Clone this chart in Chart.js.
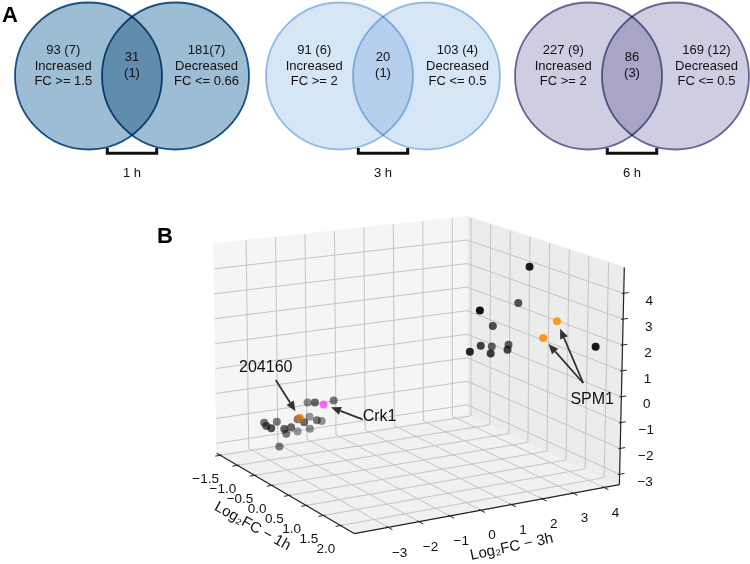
<!DOCTYPE html>
<html>
<head>
<meta charset="utf-8">
<script src="https://cdn.jsdelivr.net/npm/chart.js@4.4.1/dist/chart.umd.min.js"></script>
<style>
html,body{margin:0;padding:0;background:#fff;overflow:hidden;width:750px;height:564px;}
#wrap{position:relative;width:750px;height:564px;overflow:hidden;}
canvas{position:absolute;}
.panel{position:absolute;font-family:'Liberation Sans',Arial,sans-serif;font-weight:bold;font-size:22px;line-height:22px;color:#000;}
</style>
</head>
<body>
<div id="wrap">
  <canvas id="venn0" width="250" height="190" style="left:7px;top:0px"></canvas>
  <canvas id="venn1" width="250" height="190" style="left:258px;top:0px"></canvas>
  <canvas id="venn2" width="250" height="190" style="left:507px;top:0px"></canvas>
  <canvas id="scatter3d" width="750" height="374" style="left:0px;top:190px"></canvas>
  <div class="panel" style="left:2px;top:4px">A</div>
  <div class="panel" style="left:157px;top:225px">B</div>
</div>
<script>
// ================= DATA =================
// Panel A: Venn diagrams
const timePoints      = ['1 h', '3 h', '6 h'];
const increasedLabels = ['93 (7)', '91 (6)', '227 (9)'];
const increasedRule   = ['FC >= 1.5', 'FC >= 2', 'FC >= 2'];
const overlapCounts   = ['31', '20', '86'];
const overlapSub      = ['(1)', '(1)', '(3)'];
const decreasedLabels = ['181(7)', '103 (4)', '169 (12)'];
const decreasedRule   = ['FC <= 0.66', 'FC <= 0.5', 'FC <= 0.5'];

// Panel B: 3D scatter (log2 fold changes)
const geneLog2FC1h = [-1.0, -0.8, -0.6, -1.0, -0.6, -0.8, -0.6, -1.0, -0.8, -0.6, -1.0, -0.8, -0.6, -0.8, -1.0, -0.6, -0.6, -0.8,
                       1.0,  0.6,  1.0,  0.6,  1.0,  0.8,  0.6,  1.0,  0.8,  1.0,  2.2];
const geneLog2FC3h = [-3.17, -3.33, -3.40, -2.74, -2.96, -2.66, -2.73, -2.04, -2.27, -2.29, -1.63, -1.86, -1.86, -1.46, -1.69, -1.92, -1.29, -2.90,
                       3.22,  3.37,  1.62,  2.54,  1.30,  1.90,  2.51,  1.98,  2.81,  2.53,  3.89];
const geneLog2FC6h = [-1.88, -1.83, -1.76, -1.92, -1.87, -2.26, -1.84, -2.43, -1.75, -1.72, -1.92, -2.21, -1.72, -1.97, -1.33, -1.01, -1.04, -2.72,
                       4.51,  2.83,  3.04,  2.04,  1.48,  1.49,  1.24,  1.29,  1.38,  1.35,  1.93];

const highlightNames = ['SPM1', 'SPM1', '204160', 'Crk1'];
const highlight1h    = [1.4, 1.4, -0.8, -0.8];
const highlight3h    = [3.19, 3.63, -2.20, -1.39];
const highlight6h    = [1.93, 2.51, -1.72, -1.32];

const ticks1h = [-1.5, -1.0, -0.5, 0.0, 0.5, 1.0, 1.5, 2.0];
const ticks3h = [-3, -2, -1, 0, 1, 2, 3, 4];
const ticks6h = [-3, -2, -1, 0, 1, 2, 3, 4];
const lim1h = [-1.6, 2.4];
const lim3h = [-4.1, 4.5];
const lim6h = [-3.4, 5.0];
const label1h = 'Log\u2082FC \u2212 1h';
const label3h = 'Log\u2082FC \u2212 3h';

// ================= STYLE / LAYOUT =================
const FONT = "'Liberation Sans', Arial, Helvetica, sans-serif";
Chart.defaults.font.family = FONT;

const vennFill   = ['#9cbdd3', '#d7e6f6', '#cfcde1'];
const vennStroke = ['#1d5a8e', '#9ec4e7', '#706e9d'];
const VENN_SEP = 0.5, VENN_R = 0.845;

const multiplyPlugin = {
  id: 'multiplyFill',
  beforeDatasetsDraw(chart) { chart.ctx.save(); chart.ctx.globalCompositeOperation = 'multiply'; },
  afterDatasetsDraw(chart) { chart.ctx.restore(); }
};

const vennTextPlugin = {
  id: 'vennText',
  afterDraw(chart, args, opts) {
    const i = opts.index;
    const ctx = chart.ctx, sx = chart.scales.x, sy = chart.scales.y;
    ctx.save();
    ctx.fillStyle = '#111';
    ctx.font = '13px ' + FONT;
    ctx.textAlign = 'center';
    ctx.textBaseline = 'middle';
    const put = (t, x, y) => ctx.fillText(t, sx.getPixelForValue(x), sy.getPixelForValue(y));
    const lx = -VENN_SEP - 0.29, rx = VENN_SEP + 0.356;
    put(increasedLabels[i], lx, 0.299);
    put('Increased', lx, 0.115);
    put(increasedRule[i], lx, -0.057);
    put(decreasedLabels[i], rx, 0.299);
    put('Decreased', rx, 0.115);
    put(decreasedRule[i], rx, -0.057);
    put(overlapCounts[i], 0, 0.218);
    put(overlapSub[i], 0, 0.034);
    put(timePoints[i], 0, -1.118);
    ctx.restore();
  }
};

function makeVenn(i) {
  new Chart(document.getElementById('venn' + i), {
    type: 'scatter',
    data: {
      datasets: [
        {
          data: [{x: -VENN_SEP, y: 0}, {x: VENN_SEP, y: 0}],
          pointRadius: ctx => { const s = ctx.chart.scales.x; return s.getPixelForValue(VENN_R) - s.getPixelForValue(0); },
          pointBackgroundColor: vennFill[i],
          pointBorderColor: vennStroke[i],
          pointBorderWidth: 1.8,
          order: 2
        },
        {
          data: [{x: -0.284, y: -0.828}, {x: -0.284, y: -0.888}, {x: 0.284, y: -0.888}, {x: 0.284, y: -0.828}],
          showLine: true, pointRadius: 0, borderColor: '#111', borderWidth: 3, borderJoinStyle: 'miter', order: 1
        }
      ]
    },
    options: {
      responsive: false, animation: false, events: [],
      layout: {padding: 0},
      plugins: {legend: {display: false}, tooltip: {enabled: false}, vennText: {index: i}},
      scales: {
        x: {type: 'linear', min: -1.437, max: 1.437, display: false},
        y: {type: 'linear', min: -1.3103, max: 0.8736, display: false}
      }
    },
    plugins: [multiplyPlugin, vennTextPlugin]
  });
}
[0, 1, 2].forEach(makeVenn);

// ---------- 3D projection (box corners on the page, in px) ----------
const BOX = {
  '000': [215, 455], '100': [354, 537], '110': [622, 487], '010': [468, 415],
  '001': [212, 241], '101': [351, 300], '111': [627, 265], '011': [468, 213]
};
const lerp = (a, b, t) => [a[0] + (b[0] - a[0]) * t, a[1] + (b[1] - a[1]) * t];
function norm3(x, y, z) {
  return [(x - lim1h[0]) / (lim1h[1] - lim1h[0]), (y - lim3h[0]) / (lim3h[1] - lim3h[0]), (z - lim6h[0]) / (lim6h[1] - lim6h[0])];
}
function proj(x, y, z) {
  const [u, v, w] = norm3(x, y, z);
  const b0 = lerp(BOX['000'], BOX['100'], u), b1 = lerp(BOX['010'], BOX['110'], u);
  const t0 = lerp(BOX['001'], BOX['101'], u), t1 = lerp(BOX['011'], BOX['111'], u);
  const b = lerp(b0, b1, v), t = lerp(t0, t1, v);
  const p = lerp(b, t, w);
  return {x: p[0], y: p[1]};
}
function nearness(x, y, z) { const [u, v, w] = norm3(x, y, z); return 0.5 * u - 0.45 * v + 0.35 * w; }
function depthAlphas(xs, ys, zs, lo, hi) {
  const s = xs.map((x, k) => nearness(x, ys[k], zs[k]));
  const mn = Math.min(...s), mx = Math.max(...s);
  return s.map(v => lo + (hi - lo) * (mx > mn ? (v - mn) / (mx - mn) : 1));
}

const [X0, X1] = lim1h, [Y0, Y1] = lim3h, [Z0, Z1] = lim6h;
const datasets = [];
function lineDS(pts, color, width, order, fillColor) {
  datasets.push({
    data: pts, showLine: true, pointRadius: 0, borderColor: color, borderWidth: width,
    fill: fillColor ? 'shape' : false, backgroundColor: fillColor || 'transparent',
    tension: 0, order: order, clip: false
  });
}
// panes
lineDS([proj(X0,Y0,Z0), proj(X0,Y1,Z0), proj(X0,Y1,Z1), proj(X0,Y0,Z1), proj(X0,Y0,Z0)], '#f5f5f5', 1, 20, '#f5f5f5');
lineDS([proj(X0,Y1,Z0), proj(X1,Y1,Z0), proj(X1,Y1,Z1), proj(X0,Y1,Z1), proj(X0,Y1,Z0)], '#ececec', 1, 20, '#ececec');
lineDS([proj(X0,Y0,Z0), proj(X1,Y0,Z0), proj(X1,Y1,Z0), proj(X0,Y1,Z0), proj(X0,Y0,Z0)], '#f1f1f1', 1, 20, '#f1f1f1');
// grid
const GRID = '#c4c4c4';
ticks1h.forEach(t => lineDS([proj(t,Y0,Z0), proj(t,Y1,Z0), proj(t,Y1,Z1)], GRID, 1, 15));
ticks3h.forEach(t => lineDS([proj(X1,t,Z0), proj(X0,t,Z0), proj(X0,t,Z1)], GRID, 1, 15));
ticks6h.forEach(t => lineDS([proj(X0,Y0,t), proj(X0,Y1,t), proj(X1,Y1,t)], GRID, 1, 15));
// axis lines
const AX = '#222';
lineDS([proj(X0,Y0,Z0), proj(X1,Y0,Z0)], AX, 1.2, 12);
lineDS([proj(X1,Y0,Z0), proj(X1,Y1,Z0)], AX, 1.2, 12);
lineDS([proj(X1,Y1,Z0), proj(X1,Y1,Z1)], AX, 1.2, 12);
// tick marks
function tickDS(p, q) {
  const dx = q.x - p.x, dy = q.y - p.y, L = Math.hypot(dx, dy);
  const ux = dx / L, uy = dy / L;
  lineDS([{x: p.x - 2 * ux, y: p.y - 2 * uy}, {x: p.x + 5 * ux, y: p.y + 5 * uy}], AX, 1, 12);
}
ticks1h.forEach(t => tickDS(proj(t,Y0,Z0), proj(t,Y0 - 1,Z0)));
ticks3h.forEach(t => tickDS(proj(X1,t,Z0), proj(X1 + 1,t,Z0)));
ticks6h.forEach(t => tickDS(proj(X1,Y1,t), proj(X1,Y1 + 1,t)));

// gene points
const geneAlpha = depthAlphas(geneLog2FC1h, geneLog2FC3h, geneLog2FC6h, 0.42, 1.0);
datasets.push({
  data: geneLog2FC1h.map((x, k) => proj(x, geneLog2FC3h[k], geneLog2FC6h[k])),
  showLine: false, pointRadius: 4, pointBorderWidth: 0,
  pointBackgroundColor: geneAlpha.map(a => `rgba(17,17,17,${a.toFixed(2)})`),
  order: 5, clip: false
});
const hiColor = {SPM1: [255, 150, 25], '204160': [210, 115, 15], Crk1: [255, 60, 255]};
const hiAlpha = depthAlphas(highlight1h, highlight3h, highlight6h, 0.8, 0.95);
datasets.push({
  data: highlight1h.map((x, k) => proj(x, highlight3h[k], highlight6h[k])),
  showLine: false, pointRadius: 4, pointBorderWidth: 0,
  pointBackgroundColor: highlightNames.map((n, k) => `rgba(${hiColor[n].join(',')},${n === 'Crk1' ? 0.75 : hiAlpha[k].toFixed(2)})`),
  order: 4, clip: false
});

// annotation layout (pixel offsets)
const annot = {
  'SPM1':   {text: [49, 62],   tail: [-9, -17]},
  '204160': {text: [-34, -50], tail: [10, 12]},
  'Crk1':   {text: [56, 12],   tail: [-17, 3]}
};
const minus = s => s.replace('-', '\u2212');

const labels3d = {
  id: 'labels3d',
  afterDatasetsDraw(chart) {
    const ctx = chart.ctx, sx = chart.scales.x, sy = chart.scales.y;
    const px = p => ({x: sx.getPixelForValue(p.x), y: sy.getPixelForValue(p.y)});
    ctx.save();
    ctx.fillStyle = '#111';
    ctx.textAlign = 'center';
    ctx.textBaseline = 'middle';
    ctx.font = '13.5px ' + FONT;
    ticks1h.forEach(t => { const p = px(proj(t, Y0, Z0)); ctx.fillText(minus(t.toFixed(1)), p.x - 14.5, p.y + 23.5); });
    ticks3h.forEach(t => { const p = px(proj(X1, t, Z0)); ctx.fillText(minus(String(t)), p.x + 11.5, p.y + 25.5); });
    ticks6h.forEach(t => { const p = px(proj(X1, Y1, t)); ctx.fillText(minus(String(t)), p.x + 25.5, p.y + 8); });
    // axis labels
    ctx.font = '15px ' + FONT;
    const a1 = px(proj(X0, Y0, Z0)), b1 = px(proj(X1, Y0, Z0)), m1 = px(proj((X0 + X1) / 2, Y0, Z0));
    ctx.save(); ctx.translate(m1.x - 33, m1.y + 33); ctx.rotate(Math.atan2(b1.y - a1.y, b1.x - a1.x) - 0.02);
    ctx.fillText(label1h, 0, 0); ctx.restore();
    const a2 = px(proj(X1, Y0, Z0)), b2 = px(proj(X1, Y1, Z0)), m2 = px(proj(X1, (Y0 + Y1) / 2, Z0));
    ctx.save(); ctx.translate(m2.x + 25, m2.y + 38); ctx.rotate(Math.atan2(b2.y - a2.y, b2.x - a2.x) - 0.03);
    ctx.fillText(label3h, 0, 0); ctx.restore();
    // annotations
    ctx.font = '16px ' + FONT;
    ctx.strokeStyle = '#333'; ctx.fillStyle = '#333'; ctx.lineWidth = 1.8;
    const done = {};
    highlightNames.forEach((n, k) => {
      const tgt = px(proj(highlight1h[k], highlight3h[k], highlight6h[k]));
      if (!done[n]) {
        done[n] = {x: tgt.x + annot[n].text[0], y: tgt.y + annot[n].text[1]};
        ctx.fillStyle = '#111';
        ctx.fillText(n, done[n].x, done[n].y);
        ctx.fillStyle = '#333';
      }
      const tail = {x: done[n].x + annot[n].tail[0], y: done[n].y + annot[n].tail[1]};
      const ang = Math.atan2(tgt.y - tail.y, tgt.x - tail.x);
      const tip = {x: tgt.x - 8 * Math.cos(ang), y: tgt.y - 8 * Math.sin(ang)};
      const hl = 10, hw = 4.2;
      const bx = tip.x - hl * Math.cos(ang), by = tip.y - hl * Math.sin(ang);
      ctx.beginPath(); ctx.moveTo(tail.x, tail.y); ctx.lineTo(bx, by); ctx.stroke();
      ctx.beginPath(); ctx.moveTo(tip.x, tip.y);
      ctx.lineTo(bx + hw * Math.sin(ang), by - hw * Math.cos(ang));
      ctx.lineTo(bx - hw * Math.sin(ang), by + hw * Math.cos(ang));
      ctx.closePath(); ctx.fill();
    });
    ctx.restore();
  }
};

new Chart(document.getElementById('scatter3d'), {
  type: 'line',
  data: {datasets: datasets},
  options: {
    responsive: false, animation: false, events: [],
    layout: {padding: 0},
    plugins: {legend: {display: false}, tooltip: {enabled: false}},
    scales: {
      x: {type: 'linear', min: 0, max: 750, display: false},
      y: {type: 'linear', min: 190, max: 564, reverse: true, display: false}
    }
  },
  plugins: [labels3d]
});
</script>
</body>
</html>
